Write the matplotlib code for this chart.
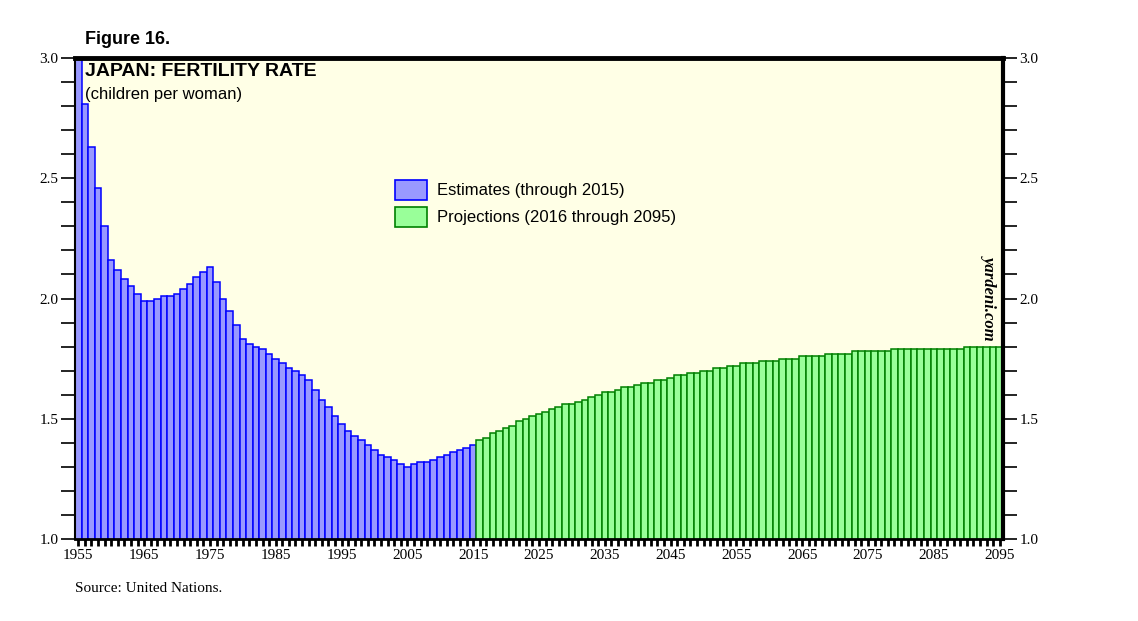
import numpy as np
import matplotlib.pyplot as plt
from matplotlib.patches import Patch
from matplotlib.ticker import MultipleLocator

# Japan total fertility rate (children per woman)
est_years = list(range(1955, 2016))
est_values = [
    3.00, 2.81, 2.63, 2.46, 2.30, 2.16, 2.12, 2.08, 2.05, 2.02,
    1.99, 1.99, 2.00, 2.01, 2.01, 2.02, 2.04, 2.06, 2.09, 2.11,
    2.13, 2.07, 2.00, 1.95, 1.89, 1.83, 1.81, 1.80, 1.79, 1.77,
    1.75, 1.73, 1.71, 1.70, 1.68, 1.66, 1.62, 1.58, 1.55, 1.51,
    1.48, 1.45, 1.43, 1.41, 1.39, 1.37, 1.35, 1.34, 1.33, 1.31,
    1.30, 1.31, 1.32, 1.32, 1.33, 1.34, 1.35, 1.36, 1.37, 1.38,
    1.39,
]
proj_years = list(range(2016, 2096))
proj_values = [
    1.41, 1.42, 1.44, 1.45, 1.46, 1.47, 1.49, 1.50, 1.51, 1.52,
    1.53, 1.54, 1.55, 1.56, 1.56, 1.57, 1.58, 1.59, 1.60, 1.61,
    1.61, 1.62, 1.63, 1.63, 1.64, 1.65, 1.65, 1.66, 1.66, 1.67,
    1.68, 1.68, 1.69, 1.69, 1.70, 1.70, 1.71, 1.71, 1.72, 1.72,
    1.73, 1.73, 1.73, 1.74, 1.74, 1.74, 1.75, 1.75, 1.75, 1.76,
    1.76, 1.76, 1.76, 1.77, 1.77, 1.77, 1.77, 1.78, 1.78, 1.78,
    1.78, 1.78, 1.78, 1.79, 1.79, 1.79, 1.79, 1.79, 1.79, 1.79,
    1.79, 1.79, 1.79, 1.79, 1.80, 1.80, 1.80, 1.80, 1.80, 1.80,
]

est_label = "Estimates (through 2015)"
proj_label = "Projections (2016 through 2095)"

blue_fill, blue_edge = "#9999ff", "#0000ff"
green_fill, green_edge = "#99ff99", "#008000"

fig = plt.figure(figsize=(11.38, 6.21), dpi=100)
ax = fig.add_axes([75/1138, 1 - 539/621, 928/1138, 481/621])
ax.set_facecolor("#ffffe6")

ax.bar(est_years, est_values, width=1.0, color=blue_fill, edgecolor=blue_edge, linewidth=1.1)
ax.bar(proj_years, proj_values, width=1.0, color=green_fill, edgecolor=green_edge, linewidth=1.1)

ax.set_xlim(1954.5, 2095.5)
ax.set_ylim(1.0, 3.0)

ax.set_xticks(list(range(1955, 2096, 10)))
ax.xaxis.set_minor_locator(MultipleLocator(1))
ax.yaxis.set_major_locator(MultipleLocator(0.5))
ax.yaxis.set_minor_locator(MultipleLocator(0.1))
ax.yaxis.set_major_formatter(plt.FuncFormatter(lambda v, p: f"{v:.1f}"))

serif = "Liberation Serif"
sans = "Liberation Sans"

ax.tick_params(axis="x", which="both", direction="out", length=5, width=2, labelsize=11,
               pad=2, top=False)
ax.tick_params(axis="y", which="both", direction="out", length=10, width=1.2,
               left=True, right=True, labelleft=True, labelright=True, labelsize=11, pad=2)
for lab in ax.get_xticklabels() + ax.get_yticklabels():
    lab.set_fontfamily(serif)

ax.spines["top"].set_linewidth(3.5)
ax.spines["right"].set_linewidth(3.0)
ax.spines["left"].set_linewidth(1.5)
ax.spines["bottom"].set_linewidth(2.0)

# titles
fig.text(85/1138, 1 - 40/621, "Figure 16.", fontfamily=sans, fontweight="bold",
         fontsize=13, va="center", ha="left")
fig.text(85/1138, 1 - 72/621, "JAPAN: FERTILITY RATE",
         fontfamily=sans, fontweight="bold", fontsize=14, va="center", ha="left")
fig.text(85/1138, 1 - 94/621, "(children per woman)",
         fontfamily=sans, fontsize=12, va="center", ha="left")

handles = [Patch(facecolor=blue_fill, edgecolor=blue_edge, linewidth=1.2, label=est_label),
           Patch(facecolor=green_fill, edgecolor=green_edge, linewidth=1.2, label=proj_label)]
ax.legend(handles=handles, loc="upper left", bbox_to_anchor=(395/1138, 1 - 180/621),
          bbox_transform=fig.transFigure, frameon=False, borderpad=0, borderaxespad=0,
          handlelength=1.92, handleheight=1.45, handletextpad=0.6, labelspacing=0.42,
          prop={"family": sans, "size": 12})

fig.text(990/1138, 1 - 297/621, "yardeni.com", fontfamily=serif, fontstyle="italic",
         fontweight="bold", fontsize=12, rotation=270, va="center", ha="center")

fig.text(75/1138, 1 - 588/621, "Source: United Nations.", fontfamily=serif, fontsize=11,
         va="center", ha="left")

fig.savefig("out.png", dpi=100)
